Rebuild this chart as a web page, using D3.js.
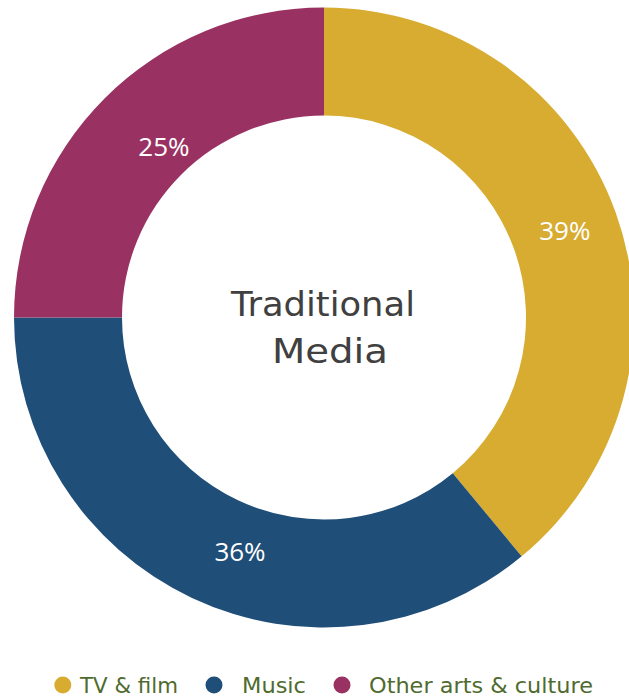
<!DOCTYPE html>
<html>
<head>
<meta charset="utf-8">
<script src="https://cdn.jsdelivr.net/npm/d3@7"></script>
<style>
  html, body { margin: 0; padding: 0; background: #ffffff; }
  svg { display: block; }
</style>
</head>
<body>
<svg id="chart" width="629" height="697"></svg>
<script>
// Share of traditional media by category
const categories = ["TV & film", "Music", "Other arts & culture"];
const shares = [39, 36, 25];
const shareLabels = ["39%", "36%", "25%"];
const colors = ["#D7AC31", "#1F4E78", "#993263"];
const centerTitle = ["Traditional", "Media"];

const W = 629, H = 697;
const cx = 324, cy = 317.5;
const outerR = 310, innerR = 202;

const svg = d3.select("#chart");
const g = svg.append("g").attr("transform", `translate(${cx},${cy})`);

const pie = d3.pie().sort(null).value(d => d)(shares);
const arc = d3.arc().innerRadius(innerR).outerRadius(outerR);

g.selectAll("path.slice")
  .data(pie)
  .join("path")
  .attr("class", "slice")
  .attr("d", arc)
  .attr("fill", (d, i) => colors[i]);

// Percentage labels sit in the ring, with small offsets per slice
const labelArc = d3.arc().innerRadius(256).outerRadius(256);
const labelNudge = [[0, 0], [25, 2], [21, 10]];
g.selectAll("text.pct")
  .data(pie)
  .join("text")
  .attr("class", "pct")
  .attr("transform", (d, i) => {
    const [x, y] = labelArc.centroid(d);
    return `translate(${x + labelNudge[i][0]},${y + labelNudge[i][1]})`;
  })
  .attr("text-anchor", "middle")
  .attr("dy", "0.36em")
  .attr("font-family", "'Open Sans', sans-serif")
  .attr("font-size", 26)
  .attr("fill", "#ffffff")
  .text((d, i) => shareLabels[i]);

// Title in the hole
const titleFont = "'Century Gothic', 'DejaVu Sans', sans-serif";
const titleLines = [
  { x: -1, y: -1.5, len: 184 },
  { x: 6, y: 45.5, len: 116 }
];
g.selectAll("text.title")
  .data(centerTitle)
  .join("text")
  .attr("class", "title")
  .attr("x", (d, i) => titleLines[i].x)
  .attr("y", (d, i) => titleLines[i].y)
  .attr("text-anchor", "middle")
  .attr("font-family", titleFont)
  .attr("font-size", 34)
  .attr("fill", "#404040")
  .attr("textLength", (d, i) => titleLines[i].len)
  .attr("lengthAdjust", "spacingAndGlyphs")
  .text(d => d);

// Legend along the bottom
const legendItems = [
  { dot: 62.8, text: 80, len: 98 },
  { dot: 214, text: 242, len: 64 },
  { dot: 342, text: 369, len: 224 }
];
const legendY = 685;
const legend = svg.append("g");
legend.selectAll("circle")
  .data(categories)
  .join("circle")
  .attr("cx", (d, i) => legendItems[i].dot)
  .attr("cy", legendY)
  .attr("r", 8.5)
  .attr("fill", (d, i) => colors[i]);
legend.selectAll("text")
  .data(categories)
  .join("text")
  .attr("x", (d, i) => legendItems[i].text)
  .attr("y", 692.5)
  .attr("font-family", titleFont)
  .attr("font-size", 22)
  .attr("fill", "#4F6B2F")
  .attr("textLength", (d, i) => legendItems[i].len)
  .attr("lengthAdjust", "spacingAndGlyphs")
  .text(d => d);
</script>
</body>
</html>
